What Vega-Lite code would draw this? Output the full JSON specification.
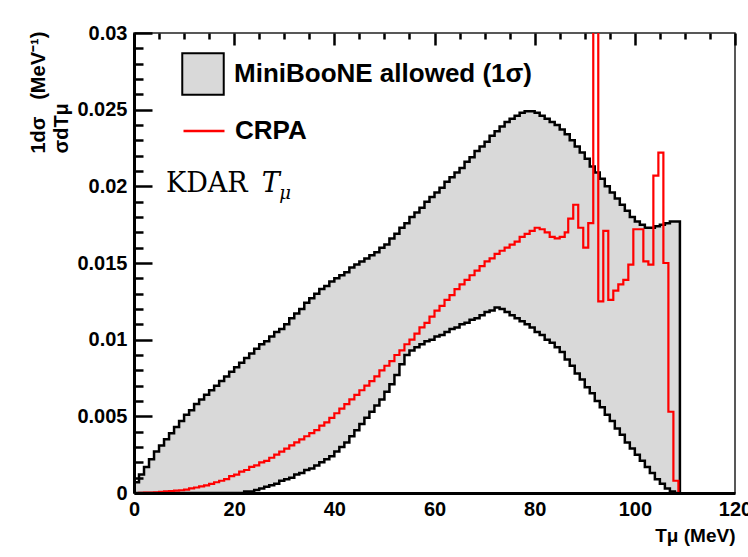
{
  "$schema": "https://vega.github.io/schema/vega-lite/v6.json",
  "width": 601,
  "height": 460,
  "autosize": "none",
  "padding": {"left": 134, "top": 33, "right": 13, "bottom": 64},
  "background": "white",
  "config": {
    "view": {"stroke": "#222222", "strokeWidth": 1.5},
    "axis": {"domainColor": "black", "domainWidth": 3, "labelColor": "black", "titleColor": "black", "labelFont": "Liberation Sans", "titleFont": "Liberation Sans"},
    "legend": {"labelFont": "Liberation Sans", "labelFontWeight": "bold", "labelFontSize": 26, "labelColor": "black", "padding": 0, "rowPadding": 0, "labelOffset": 9, "labelLimit": 0}
  },
  "datasets": {
    "band": [
      {"T": 0, "upper": 0, "lower": 0},
      {"T": 0, "upper": 0.0007, "lower": 0},
      {"T": 1, "upper": 0.0012, "lower": 0},
      {"T": 2, "upper": 0.0017, "lower": 0},
      {"T": 3, "upper": 0.0022, "lower": 0},
      {"T": 4, "upper": 0.0027, "lower": 0},
      {"T": 5, "upper": 0.0031, "lower": 0},
      {"T": 6, "upper": 0.0035, "lower": 0},
      {"T": 7, "upper": 0.0039, "lower": 0},
      {"T": 8, "upper": 0.0043, "lower": 0},
      {"T": 9, "upper": 0.0047, "lower": 0},
      {"T": 10, "upper": 0.0051, "lower": 0},
      {"T": 11, "upper": 0.0054, "lower": 0},
      {"T": 12, "upper": 0.0058, "lower": 0},
      {"T": 13, "upper": 0.0061, "lower": 0},
      {"T": 14, "upper": 0.0064, "lower": 0},
      {"T": 15, "upper": 0.0067, "lower": 0},
      {"T": 16, "upper": 0.0070, "lower": 0},
      {"T": 17, "upper": 0.0073, "lower": 0},
      {"T": 18, "upper": 0.0076, "lower": 0},
      {"T": 19, "upper": 0.0079, "lower": 0},
      {"T": 20, "upper": 0.0082, "lower": 0},
      {"T": 21, "upper": 0.0085, "lower": 0},
      {"T": 22, "upper": 0.0088, "lower": 0.0001},
      {"T": 23, "upper": 0.0091, "lower": 0.0001},
      {"T": 24, "upper": 0.0094, "lower": 0.0002},
      {"T": 25, "upper": 0.0097, "lower": 0.0003},
      {"T": 26, "upper": 0.0099, "lower": 0.0004},
      {"T": 27, "upper": 0.0102, "lower": 0.0005},
      {"T": 28, "upper": 0.0105, "lower": 0.0006},
      {"T": 29, "upper": 0.0107, "lower": 0.0008},
      {"T": 30, "upper": 0.0110, "lower": 0.0009},
      {"T": 31, "upper": 0.0114, "lower": 0.0010},
      {"T": 32, "upper": 0.0117, "lower": 0.0012},
      {"T": 33, "upper": 0.0120, "lower": 0.0013},
      {"T": 34, "upper": 0.0124, "lower": 0.0015},
      {"T": 35, "upper": 0.0127, "lower": 0.0016},
      {"T": 36, "upper": 0.0130, "lower": 0.0018},
      {"T": 37, "upper": 0.0133, "lower": 0.0020},
      {"T": 38, "upper": 0.0135, "lower": 0.0022},
      {"T": 39, "upper": 0.0138, "lower": 0.0024},
      {"T": 40, "upper": 0.0140, "lower": 0.0027},
      {"T": 41, "upper": 0.0142, "lower": 0.0030},
      {"T": 42, "upper": 0.0144, "lower": 0.0033},
      {"T": 43, "upper": 0.0147, "lower": 0.0037},
      {"T": 44, "upper": 0.0149, "lower": 0.0041},
      {"T": 45, "upper": 0.0151, "lower": 0.0045},
      {"T": 46, "upper": 0.0153, "lower": 0.0049},
      {"T": 47, "upper": 0.0155, "lower": 0.0053},
      {"T": 48, "upper": 0.0157, "lower": 0.0057},
      {"T": 49, "upper": 0.0160, "lower": 0.0061},
      {"T": 50, "upper": 0.0162, "lower": 0.0066},
      {"T": 51, "upper": 0.0166, "lower": 0.0071},
      {"T": 52, "upper": 0.0169, "lower": 0.0077},
      {"T": 53, "upper": 0.0173, "lower": 0.0084},
      {"T": 54, "upper": 0.0176, "lower": 0.0090},
      {"T": 55, "upper": 0.0180, "lower": 0.0093},
      {"T": 56, "upper": 0.0183, "lower": 0.0095},
      {"T": 57, "upper": 0.0186, "lower": 0.0097},
      {"T": 58, "upper": 0.0190, "lower": 0.0099},
      {"T": 59, "upper": 0.0193, "lower": 0.0100},
      {"T": 60, "upper": 0.0196, "lower": 0.0102},
      {"T": 61, "upper": 0.0199, "lower": 0.0103},
      {"T": 62, "upper": 0.0203, "lower": 0.0105},
      {"T": 63, "upper": 0.0206, "lower": 0.0107},
      {"T": 64, "upper": 0.0209, "lower": 0.0108},
      {"T": 65, "upper": 0.0212, "lower": 0.0110},
      {"T": 66, "upper": 0.0216, "lower": 0.0111},
      {"T": 67, "upper": 0.0219, "lower": 0.0113},
      {"T": 68, "upper": 0.0223, "lower": 0.0114},
      {"T": 69, "upper": 0.0226, "lower": 0.0116},
      {"T": 70, "upper": 0.0229, "lower": 0.0118},
      {"T": 71, "upper": 0.0233, "lower": 0.0119},
      {"T": 72, "upper": 0.0236, "lower": 0.0121},
      {"T": 73, "upper": 0.0239, "lower": 0.0120},
      {"T": 74, "upper": 0.0242, "lower": 0.0118},
      {"T": 75, "upper": 0.0244, "lower": 0.0116},
      {"T": 76, "upper": 0.0246, "lower": 0.0114},
      {"T": 77, "upper": 0.0248, "lower": 0.0112},
      {"T": 78, "upper": 0.0249, "lower": 0.0110},
      {"T": 79, "upper": 0.0249, "lower": 0.0108},
      {"T": 80, "upper": 0.0248, "lower": 0.0105},
      {"T": 81, "upper": 0.0246, "lower": 0.0103},
      {"T": 82, "upper": 0.0244, "lower": 0.0100},
      {"T": 83, "upper": 0.0242, "lower": 0.0098},
      {"T": 84, "upper": 0.0240, "lower": 0.0095},
      {"T": 85, "upper": 0.0237, "lower": 0.0092},
      {"T": 86, "upper": 0.0234, "lower": 0.0087},
      {"T": 87, "upper": 0.0230, "lower": 0.0083},
      {"T": 88, "upper": 0.0226, "lower": 0.0078},
      {"T": 89, "upper": 0.0222, "lower": 0.0074},
      {"T": 90, "upper": 0.0218, "lower": 0.0069},
      {"T": 91, "upper": 0.0213, "lower": 0.0065},
      {"T": 92, "upper": 0.0209, "lower": 0.0060},
      {"T": 93, "upper": 0.0205, "lower": 0.0056},
      {"T": 94, "upper": 0.0200, "lower": 0.0051},
      {"T": 95, "upper": 0.0196, "lower": 0.0047},
      {"T": 96, "upper": 0.0192, "lower": 0.0042},
      {"T": 97, "upper": 0.0188, "lower": 0.0038},
      {"T": 98, "upper": 0.0184, "lower": 0.0033},
      {"T": 99, "upper": 0.0180, "lower": 0.0029},
      {"T": 100, "upper": 0.0177, "lower": 0.0025},
      {"T": 101, "upper": 0.0175, "lower": 0.0021},
      {"T": 102, "upper": 0.0173, "lower": 0.0017},
      {"T": 103, "upper": 0.0173, "lower": 0.0013},
      {"T": 104, "upper": 0.0174, "lower": 0.0009},
      {"T": 105, "upper": 0.0175, "lower": 0.0006},
      {"T": 106, "upper": 0.0176, "lower": 0.0003},
      {"T": 107, "upper": 0.0177, "lower": 0.0001},
      {"T": 108, "upper": 0.0177, "lower": 0},
      {"T": 109, "upper": 0, "lower": 0}
    ],
    "crpa": [
      {"T": 0, "v": 0}, {"T": 1, "v": 0.00001}, {"T": 2, "v": 0.00002}, {"T": 3, "v": 0.00003},
      {"T": 4, "v": 0.00005}, {"T": 5, "v": 0.00007}, {"T": 6, "v": 0.0001}, {"T": 7, "v": 0.00012},
      {"T": 8, "v": 0.00015}, {"T": 9, "v": 0.00018}, {"T": 10, "v": 0.00022}, {"T": 11, "v": 0.0003},
      {"T": 12, "v": 0.00036}, {"T": 13, "v": 0.00043}, {"T": 14, "v": 0.0005}, {"T": 15, "v": 0.0006},
      {"T": 16, "v": 0.0007}, {"T": 17, "v": 0.0008}, {"T": 18, "v": 0.0009}, {"T": 19, "v": 0.0011},
      {"T": 20, "v": 0.0012}, {"T": 21, "v": 0.0014}, {"T": 22, "v": 0.0015}, {"T": 23, "v": 0.0017},
      {"T": 24, "v": 0.0018}, {"T": 25, "v": 0.0020}, {"T": 26, "v": 0.0021}, {"T": 27, "v": 0.0023},
      {"T": 28, "v": 0.0025}, {"T": 29, "v": 0.0027}, {"T": 30, "v": 0.0029}, {"T": 31, "v": 0.0031},
      {"T": 32, "v": 0.0033}, {"T": 33, "v": 0.0035}, {"T": 34, "v": 0.0037}, {"T": 35, "v": 0.0039},
      {"T": 36, "v": 0.0041}, {"T": 37, "v": 0.0044}, {"T": 38, "v": 0.0046}, {"T": 39, "v": 0.0049},
      {"T": 40, "v": 0.0052}, {"T": 41, "v": 0.0055}, {"T": 42, "v": 0.0058}, {"T": 43, "v": 0.0061},
      {"T": 44, "v": 0.0064}, {"T": 45, "v": 0.0067}, {"T": 46, "v": 0.0070}, {"T": 47, "v": 0.0073},
      {"T": 48, "v": 0.0076}, {"T": 49, "v": 0.0080}, {"T": 50, "v": 0.0083}, {"T": 51, "v": 0.0086},
      {"T": 52, "v": 0.0090}, {"T": 53, "v": 0.0093}, {"T": 54, "v": 0.0097}, {"T": 55, "v": 0.0100},
      {"T": 56, "v": 0.0104}, {"T": 57, "v": 0.0108}, {"T": 58, "v": 0.0111}, {"T": 59, "v": 0.0115},
      {"T": 60, "v": 0.0119}, {"T": 61, "v": 0.0122}, {"T": 62, "v": 0.0126}, {"T": 63, "v": 0.0129},
      {"T": 64, "v": 0.0133}, {"T": 65, "v": 0.0136}, {"T": 66, "v": 0.0139}, {"T": 67, "v": 0.0142},
      {"T": 68, "v": 0.0145}, {"T": 69, "v": 0.0148}, {"T": 70, "v": 0.0151}, {"T": 71, "v": 0.0153},
      {"T": 72, "v": 0.0156}, {"T": 73, "v": 0.0158}, {"T": 74, "v": 0.0160}, {"T": 75, "v": 0.0162},
      {"T": 76, "v": 0.0164}, {"T": 77, "v": 0.0167}, {"T": 78, "v": 0.0169}, {"T": 79, "v": 0.0171},
      {"T": 80, "v": 0.0173}, {"T": 81, "v": 0.0172}, {"T": 82, "v": 0.0170}, {"T": 83, "v": 0.0167},
      {"T": 84, "v": 0.0166}, {"T": 85, "v": 0.0167}, {"T": 86, "v": 0.0170},
      {"T": 86.7, "v": 0.0179}, {"T": 87.7, "v": 0.0188}, {"T": 88.7, "v": 0.0173}, {"T": 89.7, "v": 0.0160},
      {"T": 90.7, "v": 0.0176}, {"T": 91.7, "v": 0.05}, {"T": 92.7, "v": 0.0125}, {"T": 93.7, "v": 0.0171},
      {"T": 94.7, "v": 0.0126}, {"T": 95.7, "v": 0.0132}, {"T": 96.7, "v": 0.0136}, {"T": 97.7, "v": 0.0139},
      {"T": 98.7, "v": 0.0149}, {"T": 99.7, "v": 0.0172}, {"T": 100.7, "v": 0.0172}, {"T": 101.7, "v": 0.0151},
      {"T": 102.7, "v": 0.0149}, {"T": 103.7, "v": 0.0207}, {"T": 104.7, "v": 0.0222}, {"T": 105.7, "v": 0.0150},
      {"T": 106.7, "v": 0.0053}, {"T": 107.7, "v": 0.0008}, {"T": 108.7, "v": 0}, {"T": 120, "v": 0}
    ]
  },
  "layer": [
    {
      "data": {"name": "band"},
      "mark": {"type": "area", "interpolate": "step-after", "clip": true},
      "encoding": {
        "order": {"value": null},
        "x": {"field": "T", "type": "quantitative", "scale": {"domain": [0, 120], "nice": false},
          "axis": {"orient": "bottom", "zindex": 2, "tickCount": 200, "format": "d", "values": [0, 5, 10, 15, 20, 25, 30, 35, 40, 45, 50, 55, 60, 65, 70, 75, 80, 85, 90, 95, 100, 105, 110, 115, 120],
            "ticks": false, "grid": true, "gridColor": "black", "gridOpacity": 1, "gridWidth": 2.5,
            "gridDash": {"condition": {"test": "datum.value % 20 == 0", "value": [12, 1000]}, "value": [6, 1000]},
            "labelExpr": "datum.value % 20 == 0 ? datum.label : ''",
            "labelFontWeight": "bold", "labelFontSize": 20, "labelPadding": 6, "labelFlush": false, "labelOverlap": false,
            "title": "Tμ (MeV)", "titleFontWeight": "bold", "titleFontSize": 19, "titleAlign": "right", "titleBaseline": "top", "titleX": 601, "titleY": 33, "titleAngle": 0}},
        "y": {"field": "upper", "type": "quantitative", "scale": {"domain": [0, 0.03], "nice": false, "zero": true},
          "axis": {"orient": "left", "zindex": 2, "tickCount": 200, "values": [0, 0.001, 0.002, 0.003, 0.004, 0.005, 0.006, 0.007, 0.008, 0.009, 0.01, 0.011, 0.012, 0.013, 0.014, 0.015, 0.016, 0.017, 0.018, 0.019, 0.02, 0.021, 0.022, 0.023, 0.024, 0.025, 0.026, 0.027, 0.028, 0.029, 0.03],
            "format": "~g", "ticks": false, "grid": true, "gridColor": "black", "gridOpacity": 1, "gridWidth": 2.5,
            "gridDash": {"condition": {"test": "abs(datum.value * 200 - round(datum.value * 200)) < 0.001", "value": [18, 1000]}, "value": [9, 1000]},
            "labelExpr": "abs(datum.value * 200 - round(datum.value * 200)) < 0.001 ? datum.label : ''",
            "labelFontWeight": "bold", "labelFontSize": 20, "labelPadding": 7, "labelFlush": false, "labelOverlap": false, "labelBaseline": "middle",
            "title": ["\u00a01dσ\u00a0\u00a0\u00a0(MeV⁻¹)", "σdTμ"], "titleFontWeight": "bold", "titleFontSize": 20, "titleLineHeight": 23, "titleAngle": -90, "titleAlign": "left", "titleBaseline": "top", "titleX": -106, "titleY": 120}},
        "y2": {"field": "lower"},
        "fill": {"datum": "MiniBooNE allowed (1σ)", "scale": {"range": ["#d9d9d9"]},
          "legend": {"title": null, "orient": "none", "legendX": 47, "legendY": 19, "symbolType": "square", "symbolSize": 1720,
            "encode": {"symbols": {"update": {"stroke": {"value": "black"}, "strokeWidth": {"value": 2}, "fill": {"value": "#d9d9d9"}, "opacity": {"value": 1}}}}}}
      }
    },
    {
      "data": {"name": "band"},
      "mark": {"type": "line", "interpolate": "step-after", "color": "black", "strokeWidth": 2.5, "clip": true},
      "encoding": {
        "order": {"value": null},
        "x": {"field": "T", "type": "quantitative", "scale": {"domain": [0, 120], "nice": false}},
        "y": {"field": "upper", "type": "quantitative", "scale": {"domain": [0, 0.03], "nice": false}}
      }
    },
    {
      "data": {"name": "band"},
      "mark": {"type": "line", "interpolate": "step-after", "color": "black", "strokeWidth": 2.5, "clip": true},
      "encoding": {
        "order": {"value": null},
        "x": {"field": "T", "type": "quantitative", "scale": {"domain": [0, 120], "nice": false}},
        "y": {"field": "lower", "type": "quantitative", "scale": {"domain": [0, 0.03], "nice": false}}
      }
    },
    {
      "data": {"name": "crpa"},
      "mark": {"type": "line", "interpolate": "step-after", "strokeWidth": 2.2, "clip": true},
      "encoding": {
        "order": {"value": null},
        "x": {"field": "T", "type": "quantitative", "scale": {"domain": [0, 120], "nice": false}},
        "y": {"field": "v", "type": "quantitative", "scale": {"domain": [0, 0.03], "nice": false}},
        "stroke": {"datum": "CRPA", "scale": {"range": ["#ff0000"]},
          "legend": {"title": null, "orient": "none", "legendX": 48, "legendY": 76, "symbolType": "stroke", "symbolSize": 1681, "symbolStrokeWidth": 2.5}}
      }
    },
    {
      "data": {"values": [{"label": "KDAR"}]},
      "mark": {"type": "text", "font": "DejaVu Serif", "fontSize": 27, "align": "left", "baseline": "alphabetic", "color": "black"},
      "encoding": {
        "x": {"datum": 6.4, "type": "quantitative", "scale": {"domain": [0, 120], "nice": false}},
        "y": {"datum": 0.0196, "type": "quantitative", "scale": {"domain": [0, 0.03], "nice": false}},
        "text": {"field": "label"}
      }
    },
    {
      "data": {"values": [{"label": "T"}]},
      "mark": {"type": "text", "font": "DejaVu Serif", "fontStyle": "italic", "fontSize": 27, "align": "left", "baseline": "alphabetic", "color": "black"},
      "encoding": {
        "x": {"datum": 25.5, "type": "quantitative", "scale": {"domain": [0, 120], "nice": false}},
        "y": {"datum": 0.0196, "type": "quantitative", "scale": {"domain": [0, 0.03], "nice": false}},
        "text": {"field": "label"}
      }
    },
    {
      "data": {"values": [{"label": "μ"}]},
      "mark": {"type": "text", "font": "DejaVu Serif", "fontStyle": "italic", "fontSize": 18, "align": "left", "baseline": "alphabetic", "color": "black"},
      "encoding": {
        "x": {"datum": 29.0, "type": "quantitative", "scale": {"domain": [0, 120], "nice": false}},
        "y": {"datum": 0.0192, "type": "quantitative", "scale": {"domain": [0, 0.03], "nice": false}},
        "text": {"field": "label"}
      }
    }
  ]
}
